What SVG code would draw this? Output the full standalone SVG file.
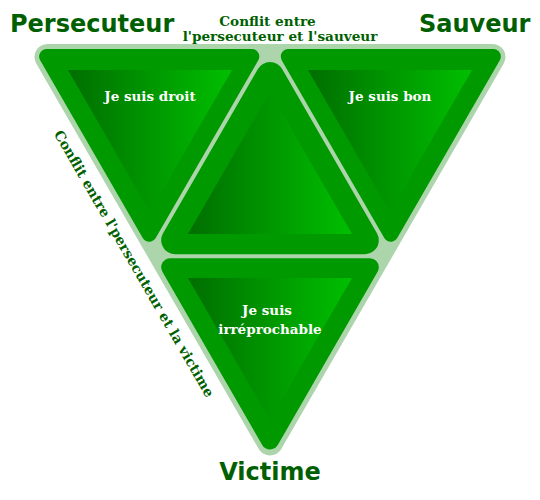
<svg xmlns="http://www.w3.org/2000/svg" width="540" height="500" viewBox="0 0 540 500">
<defs>
<linearGradient id="grad" x1="0" y1="0" x2="1" y2="0">
<stop offset="0" stop-color="#006e00"/>
<stop offset="1" stop-color="#00bf00"/>
</linearGradient>
<style>
.frame{fill:#acd5ac;stroke:#acd5ac;stroke-width:26;stroke-linejoin:round}
.tri{fill:#009900;stroke:#009900;stroke-linejoin:round}
.inner{fill:url(#grad)}
.role{font-family:"DejaVu Sans",sans-serif;font-weight:bold;font-size:24px;fill:#005f00}
.conf{font-family:"DejaVu Serif",serif;font-weight:bold;font-size:13.6px;fill:#005f00;text-anchor:middle}
.lab{font-family:"DejaVu Serif",serif;font-weight:bold;font-size:13.5px;fill:#ffffff;text-anchor:middle}
</style>
</defs>
<g id="frame">
<polygon class="frame" points="47.5,57 492.5,57 270,442.5"/>
</g>
<g id="persecuteur-node">
<polygon class="tri" stroke-width="15" points="46.65,56.5 251.81,56.5 149.23,234.18"/>
<polygon class="inner" points="68,70 232,70 150,212"/>
<text class="lab" x="150" y="100.5">Je suis droit</text>
</g>
<g id="sauveur-node">
<polygon class="tri" stroke-width="15" points="288.19,56.5 493.35,56.5 390.77,234.18"/>
<polygon class="inner" points="308,70 472,70 390,212"/>
<text class="lab" x="390" y="100.5">Je suis bon</text>
</g>
<g id="center-node">
<polygon class="tri" stroke-width="28" points="270,76 175.19,240.2 364.81,240.2"/>
<polygon class="inner" points="270,92 188,234 352,234"/>
</g>
<g id="victime-node">
<polygon class="tri" stroke-width="18" points="170.19,267.2 369.81,267.2 270,440.4"/>
<polygon class="inner" points="188,278 352,278 270,420"/>
<text class="lab" x="267" y="315">Je suis</text>
<text class="lab" x="270" y="334">irréprochable</text>
</g>
<g id="labels">
<text class="role" x="10" y="32">Persecuteur</text>
<text class="role" x="419" y="32">Sauveur</text>
<text class="role" x="270" y="480" text-anchor="middle">Victime</text>
<text class="conf" x="267.5" y="26">Conflit entre</text>
<text class="conf" x="280" y="40.5">l'persecuteur et l'sauveur</text>
<text class="conf" style="font-size:13.8px" transform="translate(130,266) rotate(60)" x="0" y="0">Conflit entre l'persecuteur et la victime</text>
</g>
</svg>
